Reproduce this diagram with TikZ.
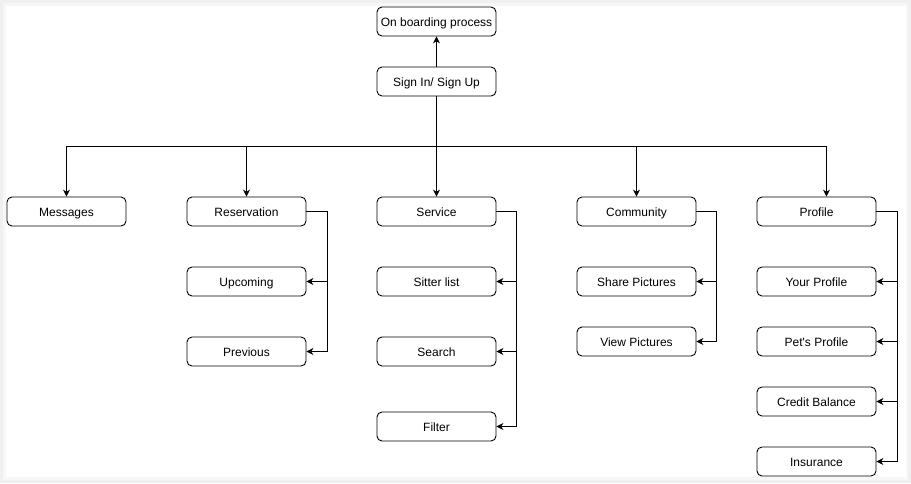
\documentclass[tikz,border=0pt]{standalone}
\usepackage{fontspec}
\newfontfamily\labelfont{Liberation Sans}
\usetikzlibrary{arrows.meta}
\begin{document}
\begin{tikzpicture}[x=1pt,y=-1pt,
  box/.style={draw, line width=0.9pt, rounded corners=5pt, minimum width=119pt,
    minimum height=29pt, inner sep=0pt, text height=9.6pt, text depth=0pt,
    font=\labelfont\fontsize{12}{14}\selectfont},
  arr/.style={line width=0.9pt, -{Stealth[length=7pt,width=7pt]}}]
  % page frame with soft edge
  \fill[black!6] (0,0) rectangle (911,483);
  \fill[black!3] (3,3) rectangle (908,480);
  \fill[white] (5.5,5.5) rectangle (905.5,477);
  \useasboundingbox (0,0) rectangle (911,483);

  % top of the tree
  \node[box] (onb) at (436.5,21.5) {On boarding process};
  \node[box] (sign) at (436.5,81.5) {Sign In/ Sign Up};
  \coordinate (bus) at (436.5,146);

  % main sections
  \node[box] (msg) at (66.5,211.5) {Messages};
  \node[box] (res) at (246.5,211.5) {Reservation};
  \node[box] (srv) at (436.5,211.5) {Service};
  \node[box] (com) at (636.5,211.5) {Community};
  \node[box] (pro) at (816.5,211.5) {Profile};

  % reservation items
  \node[box] (upc) at (246.5,281.5) {Upcoming};
  \node[box] (prev) at (246.5,351.5) {Previous};

  % service items
  \node[box] (sit) at (436.5,281.5) {Sitter list};
  \node[box] (sea) at (436.5,351.5) {Search};
  \node[box] (fil) at (436.5,426.5) {Filter};

  % community items
  \node[box] (shp) at (636.5,281.5) {Share Pictures};
  \node[box] (vwp) at (636.5,341.5) {View Pictures};

  % profile items
  \node[box] (yp) at (816.5,281.5) {Your Profile};
  \node[box] (pp) at (816.5,341.5) {Pet's Profile};
  \node[box] (cb) at (816.5,401.5) {Credit Balance};
  \node[box] (ins) at (816.5,461.5) {Insurance};

  % connectors
  \draw[arr] (sign.north) -- (onb.south);
  \foreach \t in {msg,res,srv,com}
    \draw[arr] (sign.south) -- (bus) -| (\t.north);
  \draw[arr] (sign.south) -- (bus) -| ([xshift=10pt]pro.north);

  \foreach \t in {upc,prev}
    \draw[arr] (res.east) -- ++(20.5,0) |- (\t.east);
  \foreach \t in {sit,sea,fil}
    \draw[arr] (srv.east) -- ++(20,0) |- (\t.east);
  \foreach \t in {shp,vwp}
    \draw[arr] (com.east) -- ++(20,0) |- (\t.east);
  \foreach \t in {yp,pp,cb,ins}
    \draw[arr] (pro.east) -- ++(20.5,0) |- (\t.east);
\end{tikzpicture}
\end{document}
